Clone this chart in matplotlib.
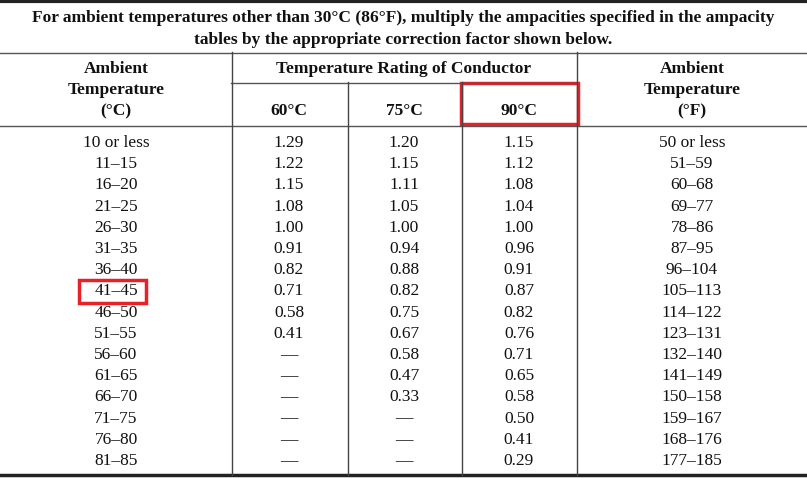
import matplotlib
matplotlib.use("Agg")
import matplotlib.pyplot as plt
from matplotlib.patches import Rectangle

ambient_c = ["10 or less","11–15","16–20","21–25","26–30","31–35","36–40","41–45","46–50","51–55","56–60","61–65","66–70","71–75","76–80","81–85"]
f60 = ["1.29","1.22","1.15","1.08","1.00","0.91","0.82","0.71","0.58","0.41","—","—","—","—","—","—"]
f75 = ["1.20","1.15","1.11","1.05","1.00","0.94","0.88","0.82","0.75","0.67","0.58","0.47","0.33","—","—","—"]
f90 = ["1.15","1.12","1.08","1.04","1.00","0.96","0.91","0.87","0.82","0.76","0.71","0.65","0.58","0.50","0.41","0.29"]
ambient_f = ["50 or less","51–59","60–68","69–77","78–86","87–95","96–104","105–113","114–122","123–131","132–140","141–149","150–158","159–167","168–176","177–185"]
title = ["For ambient temperatures other than 30°C (86°F), multiply the ampacities specified in the ampacity",
         "tables by the appropriate correction factor shown below."]

W, H = 807, 478
fig = plt.figure(figsize=(W/100, H/100), dpi=100)
ax = fig.add_axes([0, 0, 1, 1])
ax.set_xlim(0, W); ax.set_ylim(H, 0); ax.axis("off")
FONT = "Liberation Serif"
fs = 12.5
k = dict(family=FONT, ha="center", va="center", color="#111")

ax.plot([0, W], [1, 1], color="#222", lw=3)
ax.text(W/2, 18, title[0], fontsize=fs, weight="bold", **k)
ax.text(W/2, 40, title[1], fontsize=fs, weight="bold", **k)
ax.plot([0, W], [52.5, 52.5], color="#555", lw=1)
ax.plot([231, 576], [82.5, 82.5], color="#555", lw=1)
ax.plot([0, W], [125.5, 125.5], color="#555", lw=1)
ax.plot([0, W], [475, 475], color="#222", lw=2.5)
ax.plot([231.5, 231.5], [52, 475], color="#444", lw=1)
ax.plot([576.5, 576.5], [52, 475], color="#444", lw=1)
for x in [347.5, 461.5]:
    ax.plot([x, x], [82, 475], color="#444", lw=1)

for cx in [116, 692]:
    ax.text(cx, 69, "Ambient", fontsize=fs, weight="bold", **k)
    ax.text(cx, 90, "Temperature", fontsize=fs, weight="bold", **k)
ax.text(116, 111, "(°C)", fontsize=fs, weight="bold", **k)
ax.text(692, 111, "(°F)", fontsize=fs, weight="bold", **k)
ax.text(404, 69, "Temperature Rating of Conductor", fontsize=fs, weight="bold", **k)
centers = [289, 404, 519]
for cx, lab in zip(centers, ["60°C", "75°C", "90°C"]):
    ax.text(cx, 111, lab, fontsize=fs, weight="bold", **k)

y0, dy = 143, 21.2
cols = [(116, ambient_c), (289, f60), (404, f75), (519, f90), (692, ambient_f)]
for i in range(len(ambient_c)):
    y = y0 + i*dy
    for cx, arr in cols:
        ax.text(cx, y, arr[i], fontsize=fs, **k)

ax.add_patch(Rectangle((461, 83), 117, 41, fill=False, ec="#e8202a", lw=2.5))
yi = y0 + 7*dy
ax.add_patch(Rectangle((79, yi-11), 67, 23, fill=False, ec="#e8202a", lw=2.5))

fig.savefig("out.png", dpi=100)
